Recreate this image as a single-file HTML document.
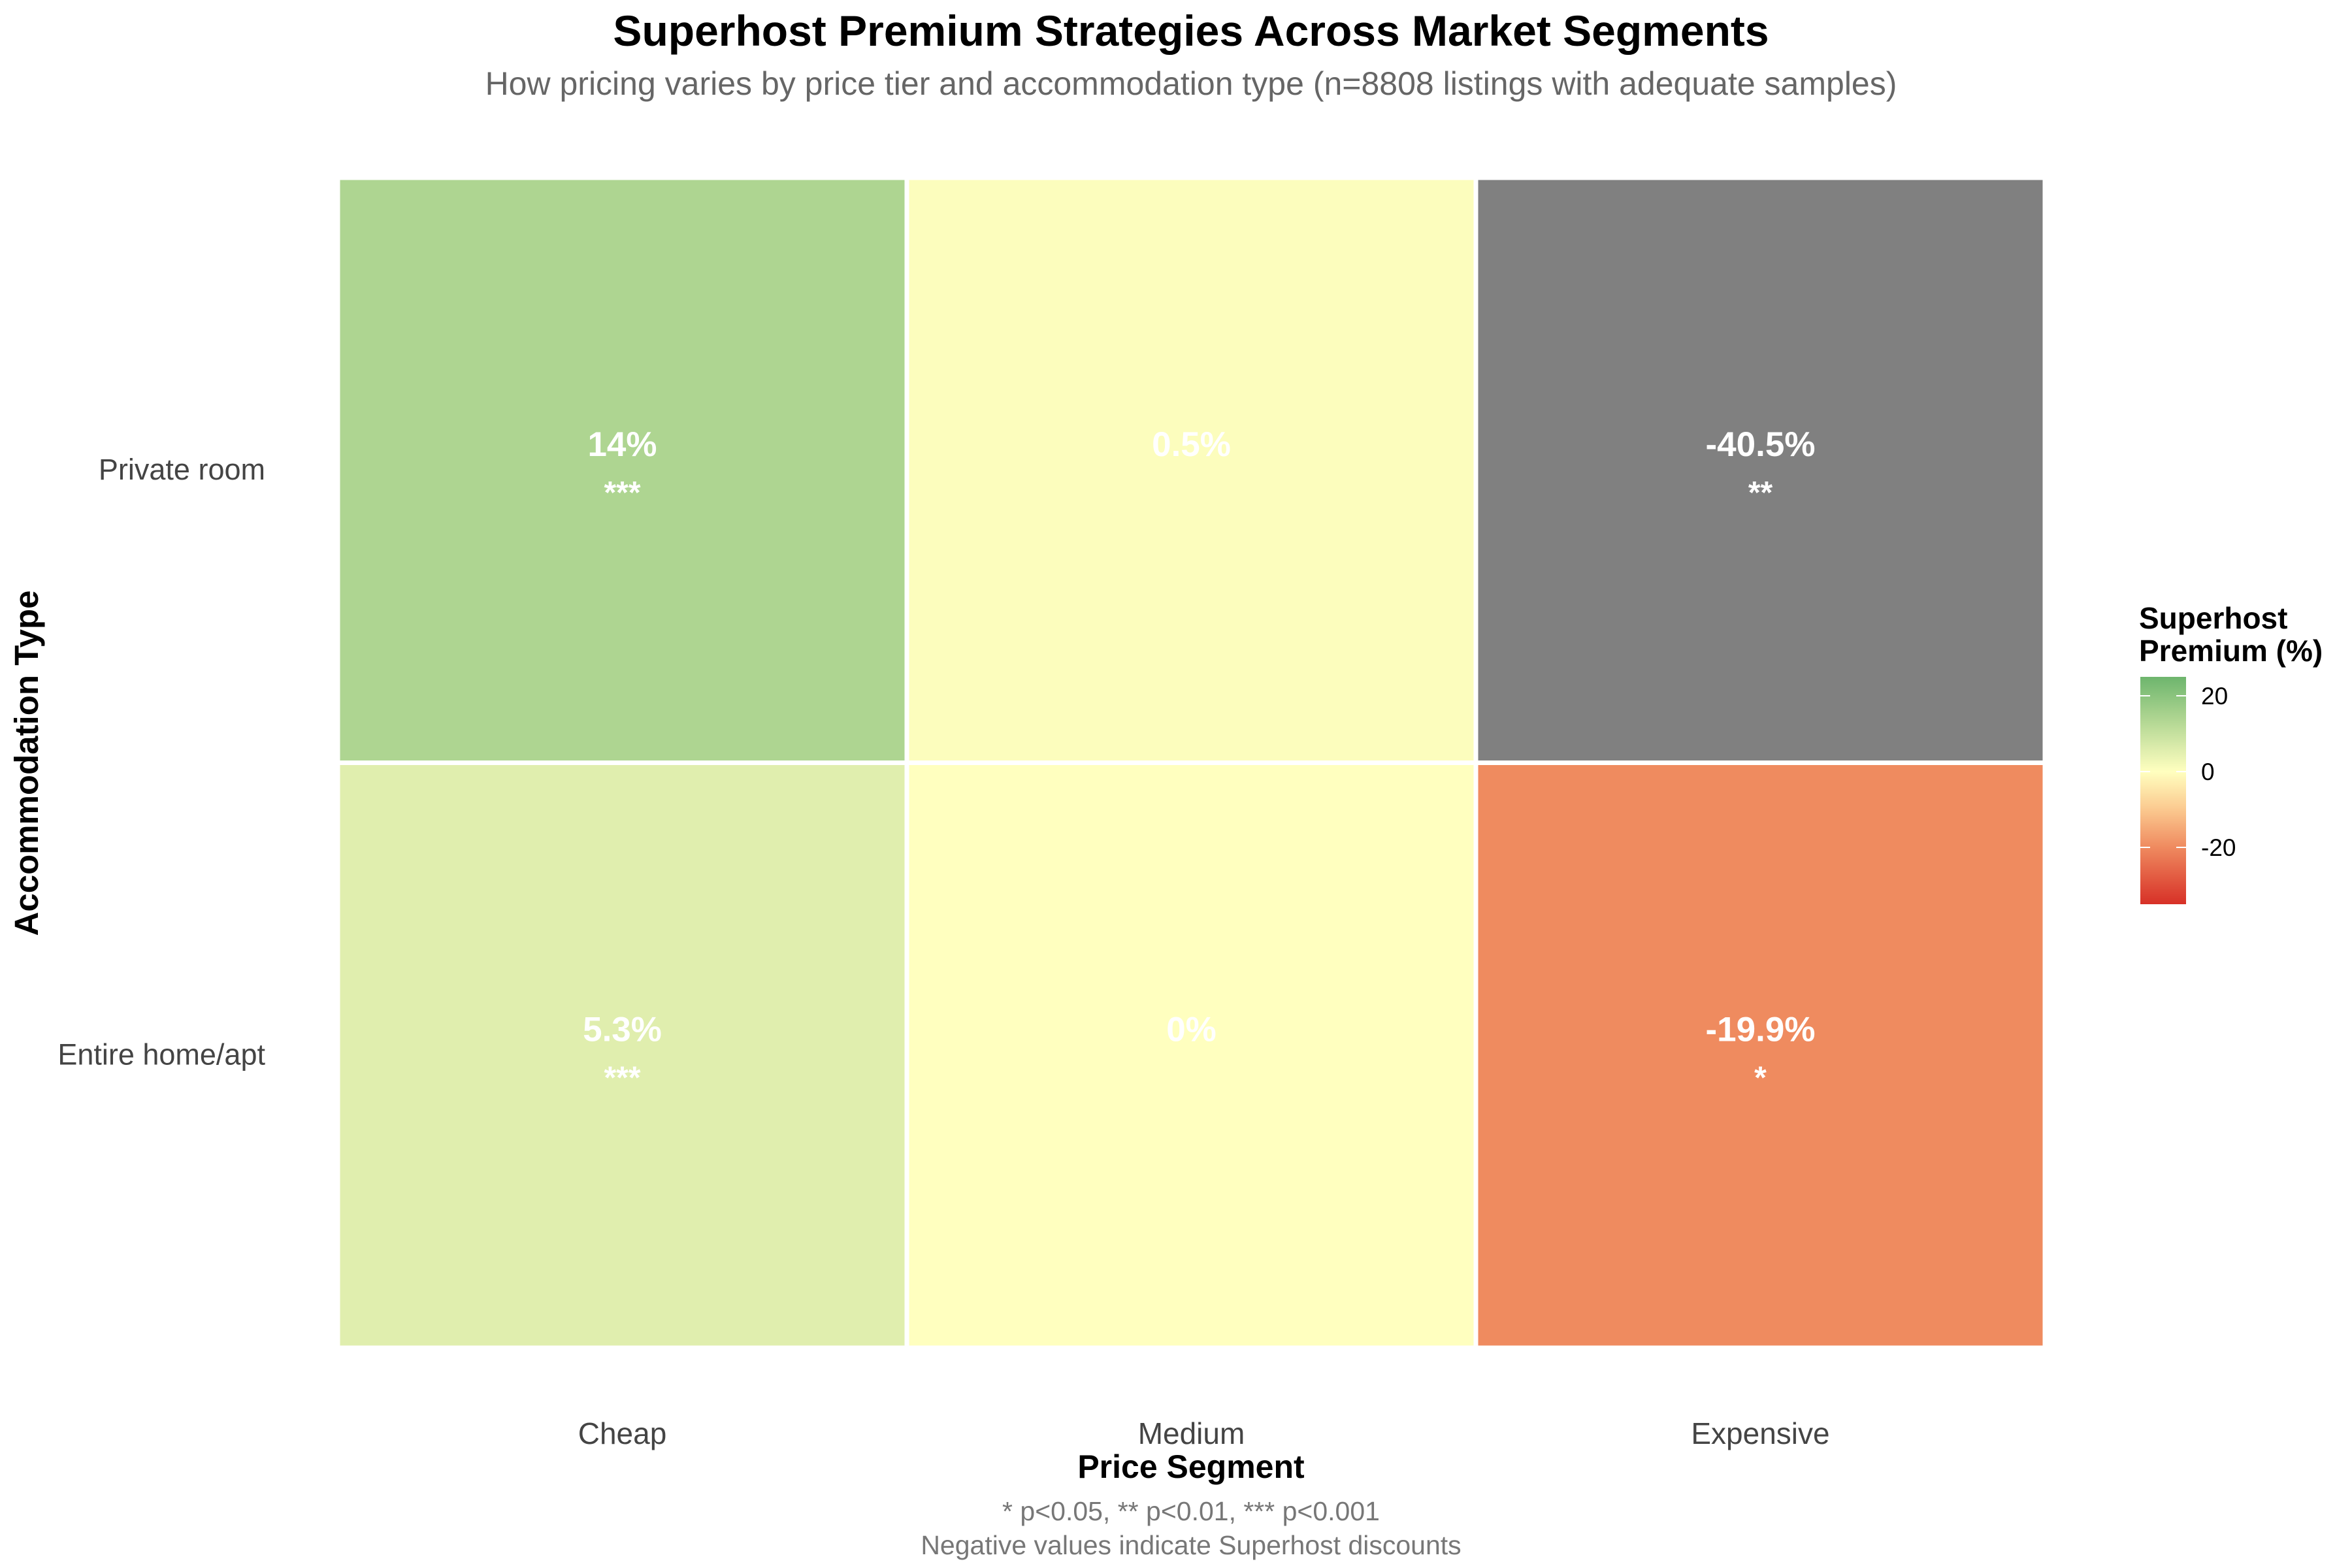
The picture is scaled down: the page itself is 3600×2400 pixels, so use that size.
<!DOCTYPE html>
<html><head><meta charset="utf-8"><style>html,body{margin:0;padding:0;background:#fff}svg{display:block}</style></head>
<body>
<svg id="chart" width="3600" height="2400" xmlns="http://www.w3.org/2000/svg" font-family="'Liberation Sans', sans-serif">
<defs>
<linearGradient id="lg" x1="0" y1="1" x2="0" y2="0">
<stop offset="0" stop-color="#d73027"/><stop offset="0.25" stop-color="#ef8a5f"/><stop offset="0.4167" stop-color="#fbc98f"/><stop offset="0.5833" stop-color="#ffffbf"/><stop offset="0.675" stop-color="#e0eeae"/><stop offset="0.8167" stop-color="#aed591"/><stop offset="1" stop-color="#6db56d"/>
</linearGradient>
</defs>
<text x="1823" y="70" text-anchor="middle" font-size="66" font-weight="bold" fill="#000">Superhost Premium Strategies Across Market Segments</text>
<text x="1823" y="145" text-anchor="middle" font-size="50" fill="#666">How pricing varies by price tier and accommodation type (n=8808 listings with adequate samples)</text>
<g id="cells"></g>
<g id="axes"></g>
<text transform="translate(58,1168) rotate(-90)" text-anchor="middle" font-size="51" font-weight="bold" fill="#000">Accommodation Type</text>
<text x="1823" y="2262" text-anchor="middle" font-size="50" font-weight="bold" fill="#000">Price Segment</text>
<text x="1823" y="2327" text-anchor="middle" font-size="41" fill="#777">* p&lt;0.05, ** p&lt;0.01, *** p&lt;0.001</text>
<text x="1823" y="2379" text-anchor="middle" font-size="41" fill="#777">Negative values indicate Superhost discounts</text>
<g>
<text x="3274" y="962" font-size="46" font-weight="bold" fill="#000">Superhost</text>
<text x="3274" y="1012" font-size="46" font-weight="bold" fill="#000">Premium (%)</text>
<rect x="3276" y="1036" width="70" height="348" fill="url(#lg)"/>
<g id="legticks"></g>
</g>
</svg>
<script>
const columns = ["Cheap", "Medium", "Expensive"];
const rows = ["Private room", "Entire home/apt"];
const privateRoom = [14, 0.5, -40.5];
const entireHome = [5.3, 0, -19.9];
const privateLabels = ["14%", "0.5%", "-40.5%"];
const entireLabels = ["5.3%", "0%", "-19.9%"];
const privateStars = ["***", "", "**"];
const entireStars = ["***", "", "*"];
const legendTicks = [20, 0, -20];

const NS = "http://www.w3.org/2000/svg";
const X0 = 517, X1 = 3130, Y0 = 272, Y1 = 2063;
const cw = (X1 - X0) / columns.length, rh = (Y1 - Y0) / rows.length;
const xPos = i => X0 + i * cw;
const yPos = j => Y0 + j * rh;
const LMIN = -35, LMAX = 25, LY0 = 1384, LY1 = 1036;
const legY = v => LY0 - (v - LMIN) / (LMAX - LMIN) * (LY0 - LY1);
const stops = [[-35,[215,48,39]],[-20,[239,138,95]],[-10,[251,201,143]],[0,[255,255,191]],[5.3,[224,238,174]],[14,[174,213,145]],[25,[109,181,109]]];
function color(v){
  if (v < LMIN || v > LMAX) return "#808080";
  for (let k=0;k<stops.length-1;k++){
    const a=stops[k], b=stops[k+1];
    if (v>=a[0] && v<=b[0]){
      const t=(v-a[0])/(b[0]-a[0]);
      const c=a[1].map((x,i)=>Math.round(x+(b[1][i]-x)*t));
      return "rgb("+c.join(",")+")";
    }
  }
  return "#808080";
}
function mk(tag, attrs, parent){
  const e=document.createElementNS(NS,tag);
  for (const k in attrs) e.setAttribute(k, attrs[k]);
  parent.appendChild(e); return e;
}
const cells=document.getElementById("cells");
const data=[privateRoom, entireHome], labs=[privateLabels, entireLabels], stars=[privateStars, entireStars];
rows.forEach((r,j)=>{
  columns.forEach((c,i)=>{
    const rect=mk("rect",{x:xPos(i)+3.5,y:yPos(j)+3.5,width:cw-7,height:rh-7,fill:color(data[j][i])},cells);
    
    
    const t=mk("text",{x:xPos(i)+cw/2,y:yPos(j)+rh/2-22,"text-anchor":"middle","font-size":53,"font-weight":"bold",fill:"#fff"},cells);
    t.textContent=labs[j][i];
    
    
    if (stars[j][i]){
      const s=mk("text",{x:xPos(i)+cw/2,y:yPos(j)+rh/2+50,"text-anchor":"middle","font-size":48,"font-weight":"bold",fill:"#fff"},cells);
      s.textContent=stars[j][i];
      
      
    }
  });
});
const axes=document.getElementById("axes");
rows.forEach((r,j)=>{
  const t=mk("text",{x:406,y:yPos(j)+rh/2+14,"text-anchor":"end","font-size":45,fill:"#444"},axes);
  t.textContent=r;
  
  
});
columns.forEach((c,i)=>{
  const t=mk("text",{x:xPos(i)+cw/2,y:2210,"text-anchor":"middle","font-size":46,fill:"#444"},axes);
  t.textContent=c;
  
  
});
const lt=document.getElementById("legticks");
legendTicks.forEach(v=>{
  const y=legY(v);
  const a=mk("line",{x1:3276,x2:3291,y1:y,y2:y,stroke:"#fff","stroke-width":2},lt);
  
  
  const b=mk("line",{x1:3331,x2:3346,y1:y,y2:y,stroke:"#fff","stroke-width":2},lt);
  
  
  const t=mk("text",{x:3369,y:y+13,"font-size":37,fill:"#000"},lt);
  t.textContent=String(v);
  
  
});
</script>
</body></html>
